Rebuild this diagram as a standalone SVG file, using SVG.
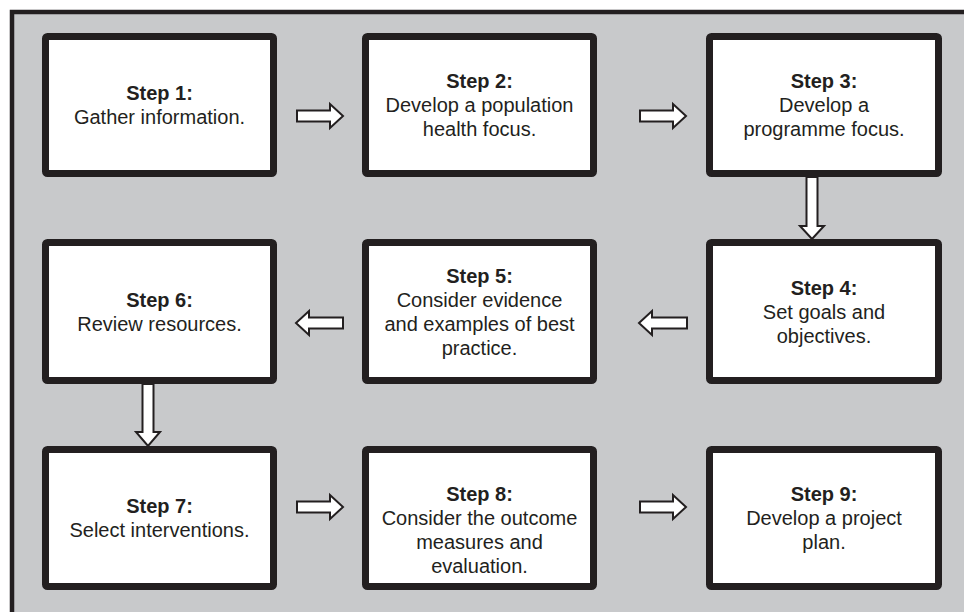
<svg xmlns="http://www.w3.org/2000/svg" width="964" height="614" viewBox="0 0 964 614">
<style>
.box{fill:#ffffff;stroke:#231f20;stroke-width:7;}
.t{font-family:"Liberation Sans",Arial,sans-serif;font-size:20px;fill:#231f20;text-anchor:middle;}
.b{font-weight:bold;}
.arr{fill:#ffffff;stroke:#231f20;stroke-width:2;stroke-linejoin:miter;}
</style>
<rect x="0" y="0" width="964" height="614" fill="#ffffff"/>
<rect x="12" y="12" width="952" height="600" fill="#c8c9cb"/>
<path d="M12,612 V12 H964" fill="none" stroke="#231f20" stroke-width="4.5"/>

<g id="step1">
<rect class="box" x="45.5" y="36.5" width="228" height="137" rx="2"/>
<text class="t b" x="159.5" y="100">Step 1:</text>
<text class="t" x="159.5" y="124">Gather information.</text>
</g>
<g id="step2">
<rect class="box" x="365.5" y="36.5" width="228" height="137" rx="2"/>
<text class="t b" x="479.5" y="88">Step 2:</text>
<text class="t" x="479.5" y="112">Develop a population</text>
<text class="t" x="479.5" y="136">health focus.</text>
</g>
<g id="step3">
<rect class="box" x="709.5" y="36.5" width="229" height="137" rx="2"/>
<text class="t b" x="824" y="88">Step 3:</text>
<text class="t" x="824" y="112">Develop a</text>
<text class="t" x="824" y="136">programme focus.</text>
</g>
<g id="step4">
<rect class="box" x="709.5" y="242.5" width="229" height="138" rx="2"/>
<text class="t b" x="824" y="295">Step 4:</text>
<text class="t" x="824" y="319">Set goals and</text>
<text class="t" x="824" y="343">objectives.</text>
</g>
<g id="step5">
<rect class="box" x="365.5" y="242.5" width="228" height="138" rx="2"/>
<text class="t b" x="479.5" y="283">Step 5:</text>
<text class="t" x="479.5" y="307">Consider evidence</text>
<text class="t" x="479.5" y="331">and examples of best</text>
<text class="t" x="479.5" y="355">practice.</text>
</g>
<g id="step6">
<rect class="box" x="45.5" y="242.5" width="228" height="138" rx="2"/>
<text class="t b" x="159.5" y="307">Step 6:</text>
<text class="t" x="159.5" y="331">Review resources.</text>
</g>
<g id="step7">
<rect class="box" x="45.5" y="449.5" width="228" height="137" rx="2"/>
<text class="t b" x="159.5" y="513">Step 7:</text>
<text class="t" x="159.5" y="537">Select interventions.</text>
</g>
<g id="step8">
<rect class="box" x="365.5" y="449.5" width="228" height="137" rx="2"/>
<text class="t b" x="479.5" y="501">Step 8:</text>
<text class="t" x="479.5" y="525">Consider the outcome</text>
<text class="t" x="479.5" y="549">measures and</text>
<text class="t" x="479.5" y="573">evaluation.</text>
</g>
<g id="step9">
<rect class="box" x="709.5" y="449.5" width="229" height="137" rx="2"/>
<text class="t b" x="824" y="501">Step 9:</text>
<text class="t" x="824" y="525">Develop a project</text>
<text class="t" x="824" y="549">plan.</text>
</g>

<g id="connectors">
<path class="arr" d="M297,110.5 H330 V104 L343,116 L330,128 V121.5 H297 Z"/>
<path class="arr" d="M640,110.5 H673 V104 L686,116 L673,128 V121.5 H640 Z"/>
<path class="arr" d="M806.5,177 V226 H800 L812,239 L824,226 H817.5 V177 Z"/>
<path class="arr" d="M687,317.5 H652 V311 L639,323 L652,335 V328.5 H687 Z"/>
<path class="arr" d="M343,317.5 H309 V311 L296,323 L309,335 V328.5 H343 Z"/>
<path class="arr" d="M142.5,384 V432 H136 L148,446 L160,432 H153.5 V384 Z"/>
<path class="arr" d="M297,501.5 H330 V495 L343,507 L330,519 V512.5 H297 Z"/>
<path class="arr" d="M640,501.5 H673 V495 L686,507 L673,519 V512.5 H640 Z"/>
</g>
</svg>
